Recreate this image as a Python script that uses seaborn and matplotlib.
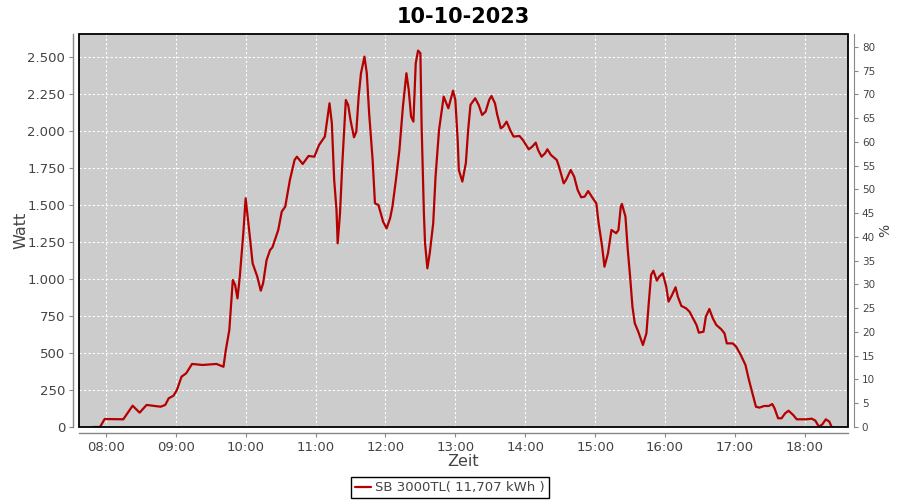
import pandas as pd
import seaborn as sns
import matplotlib
matplotlib.use("Agg")
from matplotlib import pyplot as plt
from matplotlib import dates as mdates
from matplotlib.patches import Rectangle
from matplotlib.ticker import FuncFormatter

# data (time of day, AC power in W)
times = [
    "07:49", "07:55", "07:59", "08:15", "08:23", "08:29", "08:35", "08:47", "08:51", "08:54",
    "08:58", "09:01", "09:05", "09:09", "09:14", "09:23", "09:35", "09:41", "09:43", "09:46",
    "09:49", "09:51", "09:53", "09:55", "09:58", "10:00", "10:03", "10:06", "10:10", "10:13",
    "10:15", "10:18", "10:21", "10:23", "10:28", "10:31", "10:34", "10:38", "10:42", "10:44",
    "10:49", "10:54", "10:59", "11:03", "11:08", "11:12", "11:14", "11:16", "11:18", "11:19",
    "11:21", "11:23", "11:26", "11:28", "11:30", "11:33", "11:35", "11:37", "11:39", "11:42",
    "11:44", "11:46", "11:49", "11:51", "11:54", "11:58", "12:01", "12:04", "12:06", "12:09",
    "12:12", "12:15", "12:18", "12:20", "12:22", "12:24", "12:26", "12:28", "12:30", "12:31",
    "12:33", "12:34", "12:36", "12:38", "12:41", "12:43", "12:46", "12:50", "12:54", "12:58",
    "13:00", "13:02", "13:03", "13:06", "13:09", "13:11", "13:13", "13:17", "13:20", "13:23",
    "13:26", "13:29", "13:31", "13:34", "13:36", "13:39", "13:41", "13:44", "13:47", "13:50",
    "13:55", "13:58", "14:03", "14:06", "14:09", "14:11", "14:14", "14:17", "14:19", "14:22",
    "14:27", "14:29", "14:33", "14:35", "14:39", "14:42", "14:45", "14:48", "14:51", "14:54",
    "14:58", "15:01", "15:03", "15:06", "15:08", "15:11", "15:14", "15:18", "15:20", "15:22",
    "15:23", "15:26", "15:28", "15:30", "15:32", "15:34", "15:37", "15:41", "15:44", "15:46",
    "15:48", "15:50", "15:53", "15:55", "15:58", "16:01", "16:03", "16:06", "16:09", "16:11",
    "16:14", "16:18", "16:21", "16:24", "16:27", "16:29", "16:33", "16:35", "16:38", "16:41",
    "16:44", "16:48", "16:51", "16:53", "16:58", "17:01", "17:05", "17:09", "17:12", "17:15",
    "17:18", "17:21", "17:25", "17:29", "17:32", "17:34", "17:37", "17:40", "17:43", "17:46",
    "17:50", "17:53", "18:01", "18:06", "18:09", "18:12", "18:15", "18:18", "18:21", "18:23",
]
watt = [
    0, 0, 54, 52, 144, 97, 149, 137, 149, 194,
    211, 250, 340, 363, 426, 419, 426, 407, 520, 655,
    993, 959, 869, 1016, 1309, 1545, 1331, 1106, 1016, 921,
    971, 1128, 1196, 1214, 1331, 1455, 1489, 1669, 1804, 1826,
    1777, 1831, 1826, 1905, 1962, 2187, 2052, 1669, 1466, 1241,
    1444, 1782, 2209, 2176, 2074, 1957, 1995, 2232, 2390, 2502,
    2390, 2120, 1804, 1511, 1500, 1387, 1342, 1410, 1489, 1669,
    1872, 2164, 2390, 2277, 2097, 2063, 2457, 2543, 2525, 2052,
    1444, 1241, 1072, 1173, 1376, 1691, 2007, 2232, 2153, 2272,
    2209, 1939, 1736, 1658, 1782, 2007, 2176, 2221, 2176, 2108,
    2131, 2209, 2236, 2187, 2108, 2018, 2029, 2063, 2007, 1962,
    1966, 1939, 1876, 1894, 1921, 1872, 1826, 1849, 1876, 1838,
    1804, 1759, 1646, 1669, 1736, 1691, 1601, 1552, 1556, 1594,
    1545, 1511, 1376, 1218, 1083, 1173, 1331, 1309, 1331, 1489,
    1507, 1421, 1196, 1016, 813, 701, 644, 554, 633, 836,
    1027, 1056, 989, 1016, 1038, 948, 847, 892, 944, 880,
    818, 802, 779, 734, 689, 637, 644, 745, 797, 734,
    689, 662, 633, 565, 565, 543, 486, 419, 318, 228,
    137, 131, 142, 142, 155, 126, 59, 59, 92, 110,
    81, 52, 52, 56, 43, 2, 18, 52, 36, 0,
]
day = "2023-10-10"
title = "10-10-2023"
series_label = "SB 3000TL( 11,707 kWh )"
watt_ticks = list(range(0, 2501, 250))
pct_ticks = list(range(0, 81, 5))

df = pd.DataFrame({"time": pd.to_datetime([f"{day} {t}" for t in times]), "watt": watt})

sns.set_style("white", {"axes.facecolor": "#cccccc"})
plt.rcParams["font.family"] = ["DejaVu Sans"]

fig = plt.figure(figsize=(9, 5), dpi=100)
ax = fig.add_axes([0.0878, 0.146, 0.8544, 0.786])

sns.lineplot(data=df, x="time", y="watt", color="#b40000", linewidth=1.6, ax=ax, label=series_label, legend=False)

ax.set_xlim(pd.Timestamp(f"{day} 07:37"), pd.Timestamp(f"{day} 18:37"))
ax.set_ylim(0, 2655)
ax.set_yticks(watt_ticks)
ax.yaxis.set_major_formatter(FuncFormatter(lambda v, p: f"{int(v):,}".replace(",", ".")))
ax.xaxis.set_major_locator(mdates.HourLocator())
ax.xaxis.set_major_formatter(mdates.DateFormatter("%H:%M"))
ax.grid(True, color="white", linestyle=(0, (2, 2)), linewidth=0.8)

# JFreeChart-like look: black plot outline, grey axis lines set a little apart
ax.add_patch(Rectangle((0, 0), 1, 1, transform=ax.transAxes, fill=False, edgecolor="black",
                       linewidth=1.3, clip_on=False, zorder=5))
for side in ["top", "right"]:
    ax.spines[side].set_visible(False)
for side in ["left", "bottom"]:
    ax.spines[side].set_position(("outward", 4))
    ax.spines[side].set_color("#888888")
    ax.spines[side].set_linewidth(1.0)

ax.tick_params(axis="both", labelsize=9.5, colors="#888888", labelcolor="#444444", length=3, width=0.8,
               left=True, bottom=True, direction="out", pad=3)
ax.set_xlabel("Zeit", fontsize=11.5, color="#444444", labelpad=0)
ax.set_ylabel("Watt", fontsize=11.5, color="#444444", labelpad=-1)

# right percentage axis
ax2 = ax.twinx()
ax2.set_ylim(0, 82.7)
ax2.set_yticks(pct_ticks)
for s in ax2.spines.values():
    s.set_visible(False)
ax2.spines["right"].set_visible(True)
ax2.spines["right"].set_position(("outward", 4))
ax2.spines["right"].set_color("#888888")
ax2.tick_params(axis="y", labelsize=7.5, colors="#888888", labelcolor="#444444", length=3, width=0.8,
                right=True, pad=3)
ax2.set_ylabel("%", fontsize=10, color="#444444", labelpad=2)

ax.set_title(title, fontsize=15, fontweight="bold", pad=8, color="black")

leg = fig.legend(loc="lower center", bbox_to_anchor=(0.5, -0.01), frameon=True, fancybox=False,
                 facecolor="white", framealpha=1, edgecolor="black", fontsize=9.5, handlelength=1.2,
                 borderpad=0.3, handletextpad=0.3)
leg.get_frame().set_linewidth(1.0)
for t in leg.get_texts():
    t.set_color("#444444")

fig.savefig("out.png", dpi=100, facecolor="white")
